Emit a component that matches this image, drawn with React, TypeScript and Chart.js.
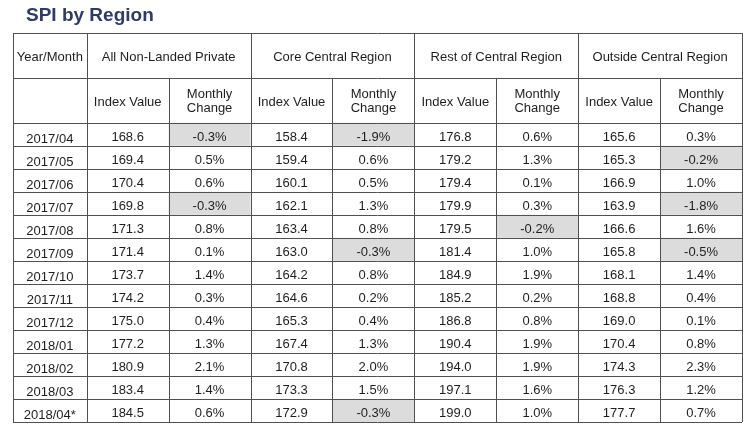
import React, { useEffect, useRef } from "react";
import { Chart, registerables } from "chart.js";

Chart.register(...registerables);

const title = "SPI by Region";
const firstHeader = "Year/Month";
const regions = [
  "All Non-Landed Private",
  "Core Central Region",
  "Rest of Central Region",
  "Outside Central Region",
];
const subHeaders = ["Index Value", "Monthly\nChange"];
const months = [
  "2017/04", "2017/05", "2017/06", "2017/07", "2017/08", "2017/09", "2017/10",
  "2017/11", "2017/12", "2018/01", "2018/02", "2018/03", "2018/04*",
];
const allIndex = [168.6, 169.4, 170.4, 169.8, 171.3, 171.4, 173.7, 174.2, 175.0, 177.2, 180.9, 183.4, 184.5];
const allChange = [-0.3, 0.5, 0.6, -0.3, 0.8, 0.1, 1.4, 0.3, 0.4, 1.3, 2.1, 1.4, 0.6];
const coreIndex = [158.4, 159.4, 160.1, 162.1, 163.4, 163.0, 164.2, 164.6, 165.3, 167.4, 170.8, 173.3, 172.9];
const coreChange = [-1.9, 0.6, 0.5, 1.3, 0.8, -0.3, 0.8, 0.2, 0.4, 1.3, 2.0, 1.5, -0.3];
const restIndex = [176.8, 179.2, 179.4, 179.9, 179.5, 181.4, 184.9, 185.2, 186.8, 190.4, 194.0, 197.1, 199.0];
const restChange = [0.6, 1.3, 0.1, 0.3, -0.2, 1.0, 1.9, 0.2, 0.8, 1.9, 1.9, 1.6, 1.0];
const outIndex = [165.6, 165.3, 166.9, 163.9, 166.6, 165.8, 168.1, 168.8, 169.0, 170.4, 174.3, 176.3, 177.7];
const outChange = [0.3, -0.2, 1.0, -1.8, 1.6, -0.5, 1.4, 0.4, 0.1, 0.8, 2.3, 1.2, 0.7];

const indexSeries = [allIndex, coreIndex, restIndex, outIndex];
const changeSeries = [allChange, coreChange, restChange, outChange];

const FONT = '"Liberation Sans", Arial, Helvetica, sans-serif';
const HEADER_TOP = -3.9;
const HEADER_MID = -1.95;
const LEFT = -0.9;

const tablePlugin = {
  id: "tablePlugin",
  afterDraw(chart: any) {
    const { ctx } = chart;
    const xs = chart.scales.x;
    const ys = chart.scales.y;
    const px = (v: number) => xs.getPixelForValue(v);
    const py = (v: number) => ys.getPixelForValue(v);
    const crisp = (p: number) => Math.round(p) + 0.5;
    const n = months.length;
    const ncol = regions.length * 2;

    ctx.save();
    // title
    ctx.fillStyle = "#2e3a6c";
    ctx.font = `bold 19px ${FONT}`;
    ctx.textAlign = "left";
    ctx.textBaseline = "alphabetic";
    ctx.fillText(title, 26, 20.5);

    // shaded negative changes
    ctx.fillStyle = "#dcdcdc";
    changeSeries.forEach((series, r) => {
      const c = 2 * r + 1;
      series.forEach((v, i) => {
        if (v < 0) {
          const x0 = px(c), x1 = px(c + 1);
          const y0 = py(i), y1 = py(i + 1);
          ctx.fillRect(x0, y0, x1 - x0, y1 - y0);
        }
      });
    });

    // grid lines
    ctx.strokeStyle = "#505050";
    ctx.lineWidth = 1;
    ctx.beginPath();
    const hLines = [HEADER_TOP, HEADER_MID];
    for (let i = 0; i <= n; i++) hLines.push(i);
    hLines.forEach((v) => {
      const yy = crisp(py(v));
      ctx.moveTo(px(LEFT), yy);
      ctx.lineTo(px(ncol), yy);
    });
    const fullV = [LEFT];
    for (let c = 0; c <= ncol; c += 2) fullV.push(c);
    fullV.forEach((v) => {
      const xx = crisp(px(v));
      ctx.moveTo(xx, py(HEADER_TOP));
      ctx.lineTo(xx, py(n));
    });
    for (let c = 1; c < ncol; c += 2) {
      const xx = crisp(px(c));
      ctx.moveTo(xx, py(HEADER_MID));
      ctx.lineTo(xx, py(n));
    }
    ctx.stroke();

    // text
    ctx.fillStyle = "#1e1e1e";
    ctx.font = `13px ${FONT}`;
    ctx.textAlign = "center";
    const h1c = (py(HEADER_TOP) + py(HEADER_MID)) / 2;
    const h2c = (py(HEADER_MID) + py(0)) / 2;
    ctx.fillText(firstHeader, (px(LEFT) + px(0)) / 2, h1c + 5.8);
    regions.forEach((name, r) => {
      ctx.fillText(name, (px(2 * r) + px(2 * r + 2)) / 2, h1c + 5.8);
      subHeaders.forEach((sh, k) => {
        const cx = (px(2 * r + k) + px(2 * r + k + 1)) / 2;
        const lines = sh.split("\n");
        if (lines.length === 1) {
          ctx.fillText(lines[0], cx, h2c + 5.8);
        } else {
          ctx.fillText(lines[0], cx, h2c - 2.5);
          ctx.fillText(lines[1], cx, h2c + 11.5);
        }
      });
    });
    months.forEach((m, i) => {
      const cy = (py(i) + py(i + 1)) / 2;
      ctx.fillText(m, (px(LEFT) + px(0)) / 2, cy + 9);
      for (let r = 0; r < regions.length; r++) {
        const iv = indexSeries[r][i];
        const ch = changeSeries[r][i];
        ctx.fillText(iv.toFixed(1), (px(2 * r) + px(2 * r + 1)) / 2, cy + 6.6);
        ctx.fillText(ch.toFixed(1) + "%", (px(2 * r + 1) + px(2 * r + 2)) / 2, cy + 6.6);
      }
    });
    ctx.restore();
  },
};

export default function App() {
  const ref = useRef<HTMLCanvasElement | null>(null);
  useEffect(() => {
    document.body.style.margin = "0";
    document.body.style.background = "#ffffff";
    if (!ref.current) return;
    const chart = new Chart(ref.current, {
      type: "scatter",
      data: { datasets: [] },
      options: {
        animation: false,
        responsive: false,
        devicePixelRatio: 1,
        layout: { padding: { left: 13, right: 8, top: 33, bottom: 7 } },
        plugins: { legend: { display: false }, tooltip: { enabled: false }, title: { display: false } },
        scales: {
          x: { type: "linear", min: LEFT, max: regions.length * 2, display: false },
          y: { type: "linear", min: HEADER_TOP, max: months.length, reverse: true, display: false },
        },
      },
      plugins: [tablePlugin],
    });
    return () => chart.destroy();
  }, []);
  return (
    <div style={{ width: 750, height: 429, background: "#fff" }}>
      <canvas ref={ref} width={750} height={429} style={{ width: 750, height: 429, display: "block" }} />
    </div>
  );
}
